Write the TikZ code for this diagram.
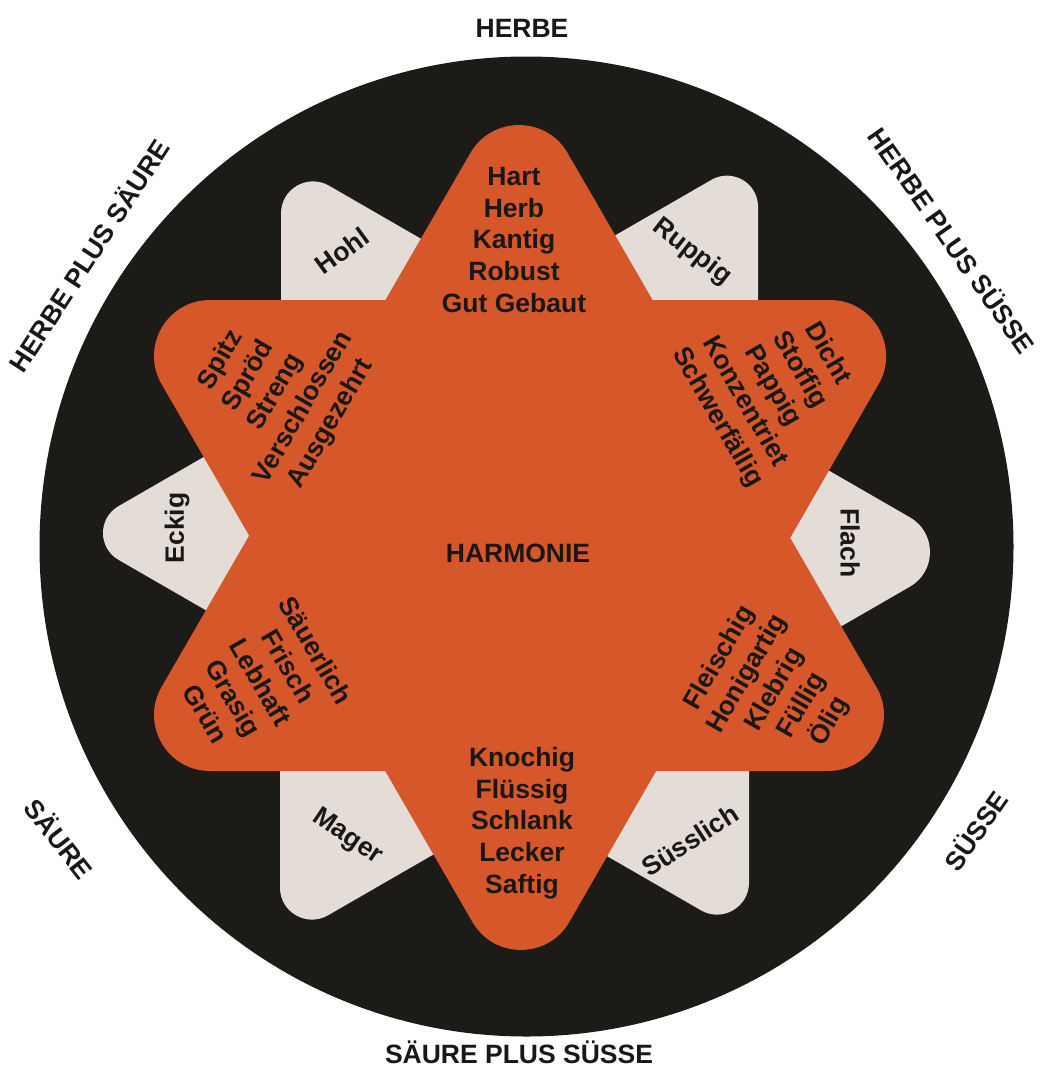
\documentclass[tikz,border=0pt]{standalone}
\usepackage{fontspec}
\setmainfont{Liberation Sans}
\usetikzlibrary{calc}
\definecolor{starorange}{RGB}{213,87,42}
\definecolor{lobegrey}{RGB}{227,220,215}
\definecolor{discblack}{RGB}{29,27,24}
\definecolor{inktext}{RGB}{26,24,22}
\begin{document}
\begin{tikzpicture}[x=1pt,y=-1pt,
  lbl/.style={font=\fontsize{26.5}{31.75}\selectfont\bfseries, text=inktext, align=center, inner sep=0pt},
  outer/.style={font=\fontsize{26.5}{30}\selectfont\bfseries, text=inktext, inner sep=0pt},
  lobe/.style={fill=lobegrey},
  starfill/.style={fill=starorange}]
\useasboundingbox (0,0) rectangle (1045,1066);
\fill[white] (0,0) rectangle (1045,1066);
% black disc
\fill[discblack] (526.5,546.5) ellipse [x radius=487pt, y radius=490pt];
% grey lobes (tip vertex V, two inner base points hidden under the star)
\coordinate (hV) at (281,158); \coordinate (hA) at (281,458); \coordinate (hB) at (541,308);
\coordinate (rV) at (758,153); \coordinate (rA) at (758,453); \coordinate (rB) at (498,303);
\coordinate (eV) at (72,533);  \coordinate (eA) at (332,383); \coordinate (eB) at (332,683);
\coordinate (fV) at (970,552); \coordinate (fA) at (710,402); \coordinate (fB) at (710,702);
\coordinate (mV) at (280,943); \coordinate (mA) at (280,643); \coordinate (mB) at (540,793);
\coordinate (sV) at (749,938); \coordinate (sA) at (749,638); \coordinate (sB) at (489,788);
\fill[lobe] (hA) -- ($(hV)!55.4pt!(hA)$) .. controls ($(hV)!30.8pt!(hA)$) and ($(hV)!30.8pt!(hB)$) .. ($(hV)!55.4pt!(hB)$) -- (hB) -- cycle;
\fill[lobe] (rA) -- ($(rV)!53.7pt!(rA)$) .. controls ($(rV)!29.8pt!(rA)$) and ($(rV)!29.8pt!(rB)$) .. ($(rV)!53.7pt!(rB)$) -- (rB) -- cycle;
\fill[lobe] (eA) -- ($(eV)!53.7pt!(eA)$) .. controls ($(eV)!29.8pt!(eA)$) and ($(eV)!29.8pt!(eB)$) .. ($(eV)!53.7pt!(eB)$) -- (eB) -- cycle;
\fill[lobe] (fA) -- ($(fV)!69.3pt!(fA)$) .. controls ($(fV)!38.5pt!(fA)$) and ($(fV)!38.5pt!(fB)$) .. ($(fV)!69.3pt!(fB)$) -- (fB) -- cycle;
\fill[lobe] (mA) -- ($(mV)!55.4pt!(mA)$) .. controls ($(mV)!30.8pt!(mA)$) and ($(mV)!30.8pt!(mB)$) .. ($(mV)!55.4pt!(mB)$) -- (mB) -- cycle;
\fill[lobe] (sA) -- ($(sV)!55.4pt!(sA)$) .. controls ($(sV)!30.8pt!(sA)$) and ($(sV)!30.8pt!(sB)$) .. ($(sV)!55.4pt!(sB)$) -- (sB) -- cycle;
% orange star: two triangles with round tips (radius 56)
\coordinate (UT) at (519,69);   \coordinate (UR) at (925,771); \coordinate (UL) at (113,771);
\coordinate (DB) at (521,1006); \coordinate (DL) at (113,300); \coordinate (DR) at (927,300);
\fill[starfill]
  ($(UT)!97pt!(UL)$) .. controls ($(UT)!54pt!(UL)$) and ($(UT)!54pt!(UR)$) .. ($(UT)!97pt!(UR)$)
  -- ($(UR)!97pt!(UT)$) .. controls ($(UR)!54pt!(UT)$) and ($(UR)!54pt!(UL)$) .. ($(UR)!97pt!(UL)$)
  -- ($(UL)!97pt!(UR)$) .. controls ($(UL)!54pt!(UR)$) and ($(UL)!54pt!(UT)$) .. ($(UL)!97pt!(UT)$)
  -- cycle;
\fill[starfill]
  ($(DB)!97pt!(DR)$) .. controls ($(DB)!54pt!(DR)$) and ($(DB)!54pt!(DL)$) .. ($(DB)!97pt!(DL)$)
  -- ($(DL)!97pt!(DB)$) .. controls ($(DL)!54pt!(DB)$) and ($(DL)!54pt!(DR)$) .. ($(DL)!97pt!(DR)$)
  -- ($(DR)!97pt!(DL)$) .. controls ($(DR)!54pt!(DL)$) and ($(DR)!54pt!(DB)$) .. ($(DR)!97pt!(DB)$)
  -- cycle;
% star texts
\node[lbl] (top) at (514,240) {Hart\\Herb\\Kantig\\Robust\\Gut Gebaut};
\node[lbl] (bot) at (522,823) {Knochig\\Flüssig\\Schlank\\Lecker\\Saftig};
\node[lbl] (harm) at (518,553) {HARMONIE};
\node[lbl, rotate=60] (ul) at (276,392) {Spitz\\Spröd\\Streng\\Verschlossen\\Ausgezehrt};
\node[lbl, rotate=-60] (ur) at (772,386) {Dicht\\Stoffig\\Pappig\\Konzentriet\\Schwerfällig};
\node[lbl, rotate=-60] (ll) at (261,682) {Säuerlich\\Frisch\\Lebhaft\\Grasig\\Grün};
\node[lbl, rotate=60] (lr) at (775,690) {Fleischig\\Honigartig\\Klebrig\\Füllig\\Ölig};
% lobe texts
\node[lbl, rotate=36] (hohl) at (342,251) {Hohl};
\node[lbl, rotate=-38] (ruppig) at (692,252) {Ruppig};
\node[lbl, rotate=90] (eckig) at (177,528) {Eckig};
\node[lbl, rotate=-90] (flach) at (850,543) {Flach};
\node[lbl, rotate=-34] (mager) at (347,837) {Mager};
\node[lbl, rotate=33] (suess) at (690,840) {Süsslich};
% outer labels
\node[outer] (n) at (522,28) {HERBE};
\node[outer] (s) at (519,1052) {SÄURE PLUS SÜSSE};
\node[outer, rotate=57] (nw) at (88,255) {HERBE PLUS SÄURE};
\node[outer, rotate=-55] (ne) at (953,240) {HERBE PLUS SÜSSE};
\node[outer, rotate=-52] (sw) at (60,838) {SÄURE};
\node[outer, rotate=55] (se) at (975,830) {SÜSSE};
\end{tikzpicture}
\end{document}
